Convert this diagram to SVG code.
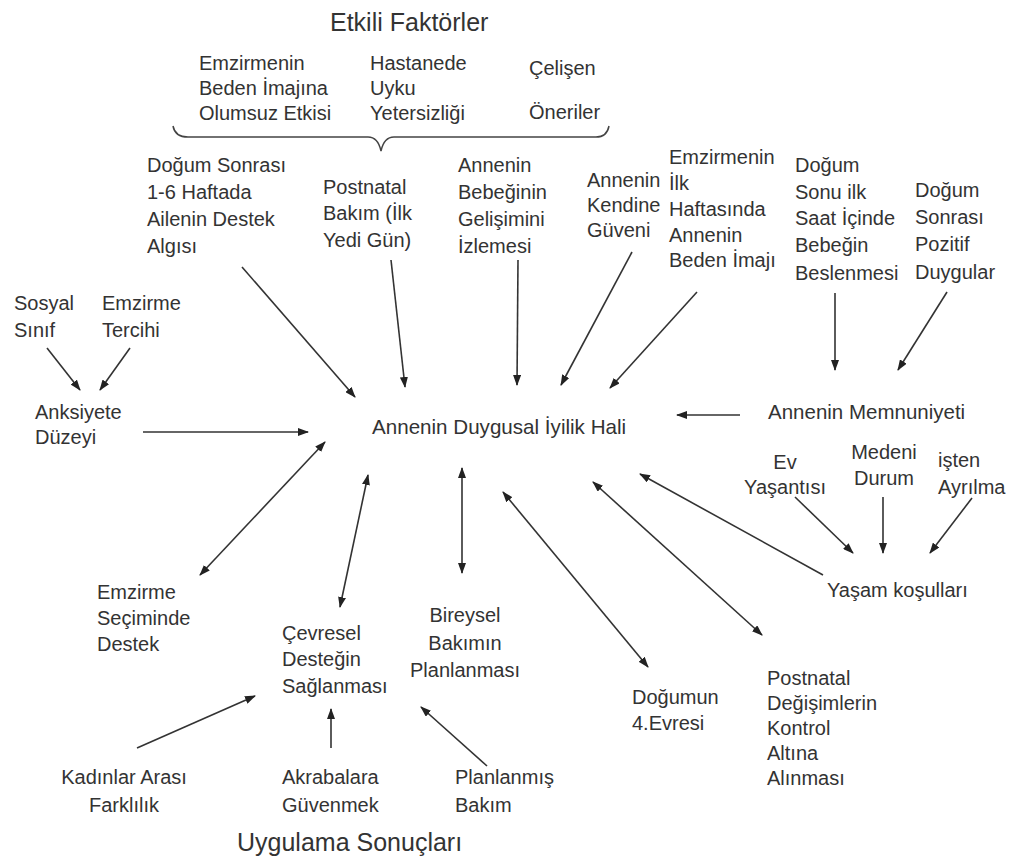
<svg xmlns="http://www.w3.org/2000/svg" width="1016" height="863" viewBox="0 0 1016 863">
<style>
text{font-family:"Liberation Sans",Arial,sans-serif;font-size:20px;fill:#333}
.t{font-size:25px}
.c{text-anchor:middle}
.l{stroke:#333;stroke-width:1.6;fill:none;marker-end:url(#ah)}
.d{marker-start:url(#ah)}
</style>
<defs>
<marker id="ah" markerUnits="userSpaceOnUse" markerWidth="11" markerHeight="8" refX="10" refY="4" orient="auto-start-reverse">
<path d="M0,0 L11,4 L0,8 z" fill="#222"/>
</marker>
</defs>
<rect width="1016" height="863" fill="#fff"/>
<g id="title-top"><text class="t" x="330" y="31">Etkili Faktörler</text></g>
<g id="brace"><path d="M173,126 Q175,137 188,137 L368,137 Q378,137 381,151 Q384,137 394,137 L596,137 Q607,137 609,126" stroke="#444" stroke-width="1.5" fill="none"/></g>
<g id="n-emz-beden"><text x="199" y="70">Emzirmenin</text><text x="199" y="95">Beden İmajına</text><text x="199" y="120">Olumsuz Etkisi</text></g>
<g id="n-hastane"><text x="370" y="70">Hastanede</text><text x="370" y="95">Uyku</text><text x="370" y="120">Yetersizliği</text></g>
<g id="n-celisen"><text x="529" y="75">Çelişen</text><text x="529" y="119">Öneriler</text></g>
<g id="n-aile"><text x="147" y="172">Doğum Sonrası</text><text x="147" y="199">1-6 Haftada</text><text x="147" y="226">Ailenin Destek</text><text x="147" y="253">Algısı</text></g>
<g id="n-postnatal"><text x="323" y="194">Postnatal</text><text x="323" y="220">Bakım (İlk</text><text x="323" y="247">Yedi Gün)</text></g>
<g id="n-izleme"><text x="458" y="172">Annenin</text><text x="458" y="199">Bebeğinin</text><text x="458" y="226">Gelişimini</text><text x="458" y="253">İzlemesi</text></g>
<g id="n-guven"><text x="587" y="187">Annenin</text><text x="587" y="212">Kendine</text><text x="587" y="237">Güveni</text></g>
<g id="n-imaj"><text x="669" y="164">Emzirmenin</text><text x="669" y="190">İlk</text><text x="669" y="216">Haftasında</text><text x="669" y="242">Annenin</text><text x="669" y="267">Beden İmajı</text></g>
<g id="n-beslenme"><text x="795" y="172">Doğum</text><text x="795" y="199">Sonu ilk</text><text x="795" y="225">Saat İçinde</text><text x="795" y="252">Bebeğin</text><text x="795" y="280">Beslenmesi</text></g>
<g id="n-pozitif"><text x="915" y="197">Doğum</text><text x="915" y="224">Sonrası</text><text x="915" y="251">Pozitif</text><text x="915" y="279">Duygular</text></g>
<g id="n-sosyal"><text x="14" y="310">Sosyal</text><text x="14" y="337">Sınıf</text></g>
<g id="n-tercih"><text x="102" y="310">Emzirme</text><text x="102" y="337">Tercihi</text></g>
<g id="n-anksiyete"><text x="35" y="419">Anksiyete</text><text x="35" y="444">Düzeyi</text></g>
<g id="n-center"><text x="372" y="434" style="font-size:20.6px">Annenin Duygusal İyilik Hali</text></g>
<g id="n-memnun"><text x="768" y="419" style="font-size:20.5px">Annenin Memnuniyeti</text></g>
<g id="n-ev"><text class="c" x="785" y="469">Ev</text><text class="c" x="785" y="494">Yaşantısı</text></g>
<g id="n-medeni"><text class="c" x="884" y="459">Medeni</text><text class="c" x="884" y="485">Durum</text></g>
<g id="n-isten"><text x="938" y="467">işten</text><text x="938" y="494">Ayrılma</text></g>
<g id="n-yasam"><text x="827" y="597">Yaşam koşulları</text></g>
<g id="n-secim"><text x="97" y="599">Emzirme</text><text x="97" y="625">Seçiminde</text><text x="97" y="651">Destek</text></g>
<g id="n-cevresel"><text x="282" y="640">Çevresel</text><text x="282" y="666">Desteğin</text><text x="282" y="693">Sağlanması</text></g>
<g id="n-bireysel"><text class="c" x="465" y="622">Bireysel</text><text class="c" x="465" y="650">Bakımın</text><text class="c" x="465" y="677">Planlanması</text></g>
<g id="n-evre"><text x="632" y="704">Doğumun</text><text x="632" y="730">4.Evresi</text></g>
<g id="n-degisim"><text x="767" y="685">Postnatal</text><text x="767" y="710">Değişimlerin</text><text x="767" y="735">Kontrol</text><text x="767" y="760">Altına</text><text x="767" y="785">Alınması</text></g>
<g id="n-kadinlar"><text class="c" x="124" y="784">Kadınlar Arası</text><text class="c" x="124" y="812">Farklılık</text></g>
<g id="n-akraba"><text x="282" y="784">Akrabalara</text><text x="282" y="812">Güvenmek</text></g>
<g id="n-planli"><text x="455" y="784">Planlanmış</text><text x="455" y="812">Bakım</text></g>
<g id="title-bottom"><text class="t" x="237" y="851">Uygulama Sonuçları</text></g>
<g id="connectors">
<line class="l" x1="242" y1="267" x2="355" y2="397"/>
<line class="l" x1="391" y1="260" x2="405" y2="387"/>
<line class="l" x1="518" y1="260" x2="517" y2="385"/>
<line class="l" x1="632" y1="252" x2="561" y2="385"/>
<line class="l" x1="697" y1="292" x2="610" y2="388"/>
<line class="l" x1="835" y1="293" x2="835" y2="370"/>
<line class="l" x1="947" y1="292" x2="898" y2="370"/>
<line class="l" x1="740" y1="415" x2="677" y2="415"/>
<line class="l" x1="47" y1="348" x2="80" y2="390"/>
<line class="l" x1="130" y1="348" x2="100" y2="390"/>
<line class="l" x1="143" y1="432" x2="308" y2="432"/>
<line class="l d" x1="325" y1="442" x2="200" y2="575"/>
<line class="l d" x1="368" y1="475" x2="340" y2="607"/>
<line class="l d" x1="462" y1="468" x2="462" y2="573"/>
<line class="l d" x1="503" y1="492" x2="648" y2="667"/>
<line class="l d" x1="593" y1="482" x2="762" y2="635"/>
<line class="l" x1="823" y1="575" x2="640" y2="474"/>
<line class="l" x1="795" y1="497" x2="853" y2="553"/>
<line class="l" x1="883" y1="497" x2="883" y2="553"/>
<line class="l" x1="972" y1="498" x2="930" y2="553"/>
<line class="l" x1="137" y1="748" x2="255" y2="696"/>
<line class="l" x1="331" y1="748" x2="331" y2="709"/>
<line class="l" x1="487" y1="766" x2="421" y2="707"/>
</g>
</svg>
